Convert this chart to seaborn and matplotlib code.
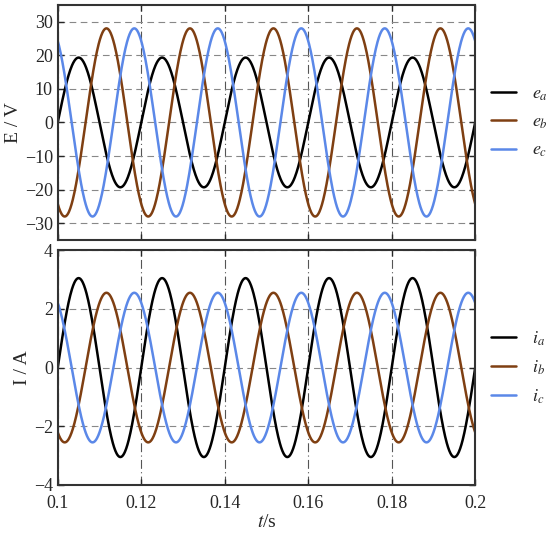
import numpy as np
import pandas as pd
import matplotlib
matplotlib.use("Agg")
import matplotlib.pyplot as plt
import seaborn as sns

# values
freq = 50.0                      # Hz, one period = 0.02 s
t = np.linspace(0.1, 0.2, 1001)
phase_names = ["a", "b", "c"]
phase_shift_deg = [0, -120, 120]  # relative to phase a, zero-crossing at t=0.1
emf_amp = [19.3, 28.0, 28.0]     # V
cur_amp = [3.05, 2.55, 2.55]     # A
colors = ["#000000", "#7f3f12", "#5b88e8"]
e_ticks = [-30, -20, -10, 0, 10, 20, 30]
i_ticks = [-4, -2, 0, 2, 4]
t_ticks = [0.1, 0.12, 0.14, 0.16, 0.18, 0.2]
t_labels = ["0.1", "0.12", "0.14", "0.16", "0.18", "0.2"]

rows = []
for name, ph, ea, ia in zip(phase_names, phase_shift_deg, emf_amp, cur_amp):
    s = np.sin(2 * np.pi * freq * (t - 0.1) + np.deg2rad(ph))
    rows.append(pd.DataFrame({"t": t, "E": ea * s, "I": ia * s,
                              "e": f"$e_{name}$", "i": f"$i_{name}$"}))
df = pd.concat(rows, ignore_index=True)

sns.set_style("ticks")
plt.rcParams["font.family"] = ["Liberation Serif", "DejaVu Serif"]
plt.rcParams["mathtext.fontset"] = "stix"

fig = plt.figure(figsize=(5.5, 5.37), dpi=100)
ax1 = fig.add_axes([0.105, 0.553, 0.759, 0.438])
ax2 = fig.add_axes([0.105, 0.097, 0.759, 0.437])

sns.lineplot(data=df, x="t", y="E", hue="e", palette=colors, ax=ax1,
             linewidth=1.8, sort=False, estimator=None)
sns.lineplot(data=df, x="t", y="I", hue="i", palette=colors, ax=ax2,
             linewidth=1.8, sort=False, estimator=None)

for ax, ticks, lim, lab in [(ax1, e_ticks, (-35, 35), "E / V"),
                             (ax2, i_ticks, (-4, 4), "I / A")]:
    ax.set_xlim(0.1, 0.2)
    ax.set_ylim(*lim)
    ax.set_yticks(ticks)
    ax.set_xticks(t_ticks)
    ax.set_ylabel(lab, fontsize=14, labelpad=2)
    ax.tick_params(direction="in", top=True, right=True, labelsize=13,
                   length=4, width=1)
    ax.tick_params(axis="x", pad=7)
    for sp in ax.spines.values():
        sp.set_visible(True)
        sp.set_linewidth(1.5)
        sp.set_color("#333333")
    ax.yaxis.grid(True, linestyle=(0, (6, 4)), color="#888888", linewidth=0.8)
    ax.xaxis.grid(True, linestyle=(0, (8, 3, 1, 3)), color="#555555", linewidth=0.8)
    ax.set_axisbelow(True)
    ax.legend(loc="center left", bbox_to_anchor=(1.02, 0.5), frameon=False,
              fontsize=13, handlelength=1.4, labelspacing=0.6,
              handletextpad=0.9, borderaxespad=0)

ax1.set_xlabel("")
ax1.set_xticklabels([])
ax2.set_xticklabels(t_labels)
ax2.set_xlabel("$t$/s", fontsize=14, labelpad=2)

fig.savefig("out.png", dpi=100)
